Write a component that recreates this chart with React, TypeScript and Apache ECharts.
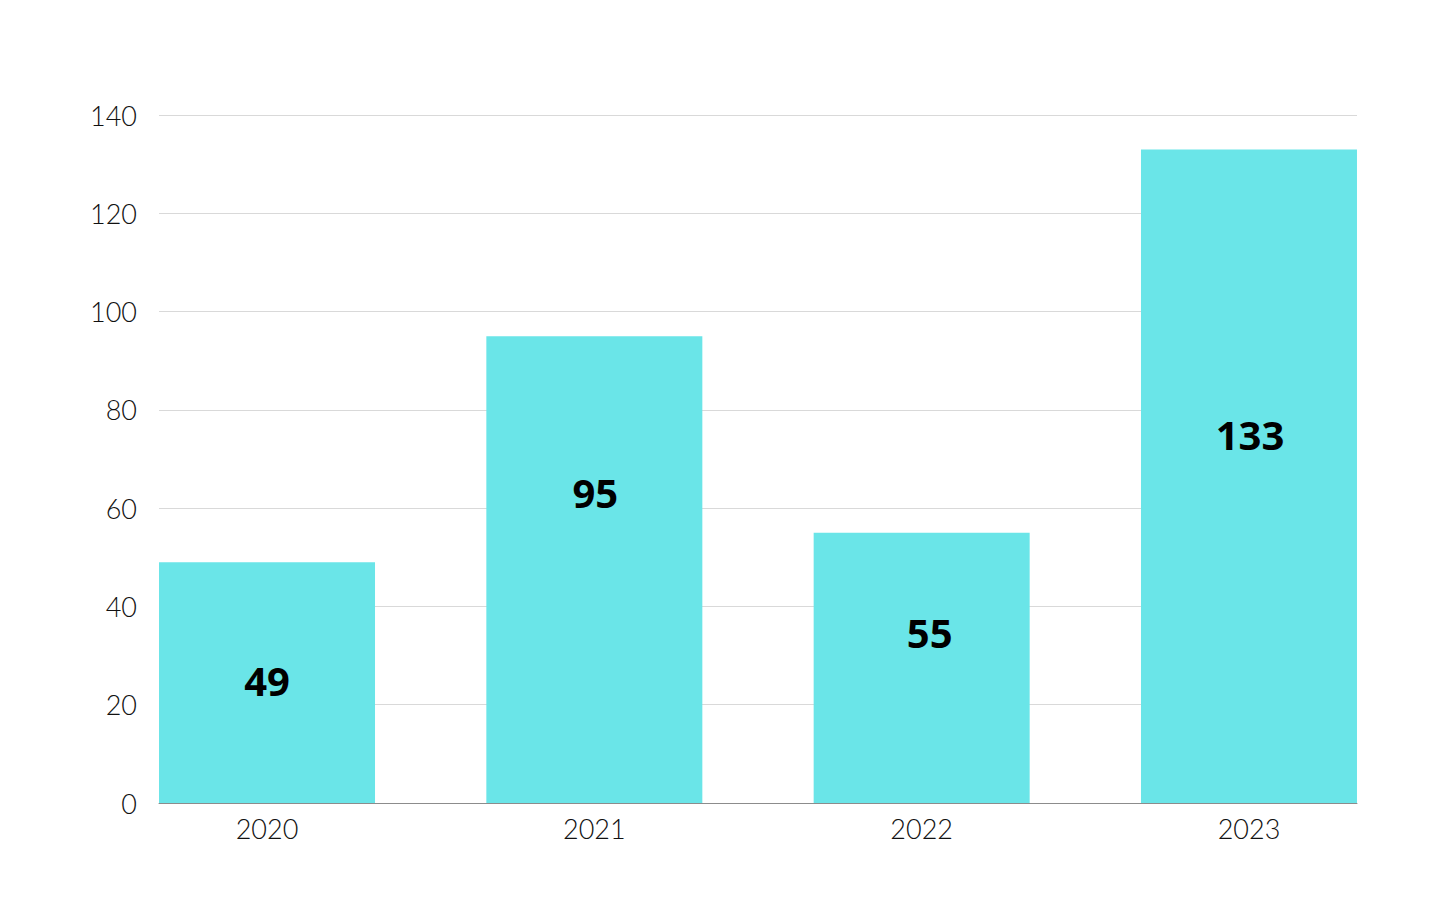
import React, { useEffect, useRef } from "react";
import * as echarts from "echarts";

const categories = ["2020", "2021", "2022", "2023"];
const values = [49, 95, 55, 133];
const yTicks = [0, 20, 40, 60, 80, 100, 120, 140];
// label shifts (px) relative to bar centre
const labelShiftX = [0, 1, 8, 1];
const labelShiftY = [-2, -77, -35, -42];

export default function App() {
  const ref = useRef<HTMLDivElement>(null);
  useEffect(() => {
    if (!ref.current) return;
    const chart = echarts.init(ref.current, undefined, { renderer: "svg" });
    chart.setOption({
      animation: false,
      backgroundColor: "#ffffff",
      grid: { left: 159, right: 93, top: 115, bottom: 115, containLabel: false },
      xAxis: {
        type: "value",
        min: -0.33,
        max: 3.33,
        splitLine: { show: false },
        axisTick: { show: false },
        axisLine: { show: true, lineStyle: { color: "#8c8c8c", width: 1 } },
        axisLabel: {
          customValues: categories.map((_, i) => i),
          formatter: (v: number) => categories[Math.round(v)] ?? "",
          color: "#111111",
          fontFamily: "Lato",
          fontWeight: 300,
          fontSize: 27,
          margin: 12,
        },
      },
      yAxis: {
        type: "value",
        min: yTicks[0],
        max: yTicks[yTicks.length - 1],
        interval: 20,
        axisLine: { show: false },
        axisTick: { show: false },
        splitLine: { show: true, lineStyle: { color: "#d9d9d9", width: 1 } },
        axisLabel: {
          color: "#111111",
          fontFamily: "Lato",
          fontWeight: 300,
          fontSize: 27,
          margin: 22,
        },
      },
      series: [
        {
          type: "bar",
          barWidth: 216,
          data: values.map((v, i) => ({
            value: [i, v],
            label: { offset: [labelShiftX[i], labelShiftY[i]] },
          })),
          itemStyle: { color: "#6ae5e8" },
          label: {
            show: true,
            position: "inside",
            formatter: (p: any) => String(p.value[1]),
            color: "#000000",
            fontFamily: "Open Sans",
            fontWeight: "bold",
            fontSize: 40,
          },
        },
      ],
    });
    return () => chart.dispose();
  }, []);
  return (
    <div
      ref={ref}
      style={{ position: "absolute", left: 0, top: 0, width: 1450, height: 918 }}
    />
  );
}
